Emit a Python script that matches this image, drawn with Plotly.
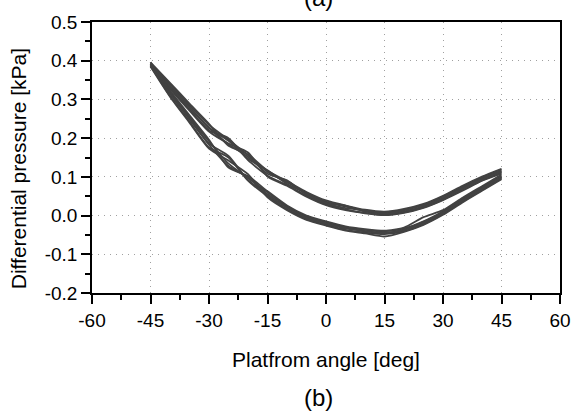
import plotly.graph_objects as go

# Platform angle grid for every half-cycle (deg)
angle_fwd = [-45, -40, -35, -30, -25, -20, -15, -10, -5, 0, 5, 10, 15, 20, 25, 30, 35, 40, 45]

# Upper branch of each cycle (kPa)
upper_c1 = [0.392, 0.340, 0.285, 0.234, 0.196, 0.156, 0.113, 0.086, 0.058, 0.036, 0.023, 0.013, 0.009, 0.015, 0.028, 0.049, 0.074, 0.099, 0.119]
upper_c2 = [0.387, 0.330, 0.274, 0.220, 0.200, 0.143, 0.103, 0.079, 0.051, 0.029, 0.016, 0.007, 0.002, 0.008, 0.021, 0.041, 0.066, 0.091, 0.111]
upper_c3 = [0.396, 0.343, 0.289, 0.237, 0.180, 0.158, 0.116, 0.089, 0.061, 0.039, 0.026, 0.015, 0.010, 0.017, 0.030, 0.051, 0.077, 0.101, 0.121]
upper_c4 = [0.385, 0.327, 0.271, 0.217, 0.186, 0.163, 0.101, 0.077, 0.049, 0.027, 0.014, 0.006, 0.001, 0.007, 0.020, 0.040, 0.064, 0.090, 0.108]
upper_c5 = [0.391, 0.336, 0.280, 0.227, 0.193, 0.147, 0.117, 0.082, 0.057, 0.033, 0.026, 0.010, 0.006, 0.011, 0.024, 0.045, 0.072, 0.096, 0.116]
upper_c6 = [0.389, 0.334, 0.279, 0.226, 0.184, 0.152, 0.108, 0.091, 0.054, 0.032, 0.019, 0.014, 0.004, 0.014, 0.027, 0.044, 0.069, 0.094, 0.114]

# Lower branch of each cycle (kPa)
lower_c1 = [0.392, 0.320, 0.255, 0.192, 0.134, 0.097, 0.060, 0.024, -0.002, -0.017, -0.030, -0.037, -0.041, -0.033, -0.015, 0.011, 0.043, 0.073, 0.103]
lower_c2 = [0.387, 0.309, 0.243, 0.176, 0.150, 0.090, 0.050, 0.016, -0.009, -0.024, -0.037, -0.044, -0.048, -0.040, -0.022, 0.004, 0.036, 0.066, 0.096]
lower_c3 = [0.396, 0.323, 0.259, 0.196, 0.124, 0.102, 0.063, 0.026, 0.000, -0.015, -0.028, -0.035, -0.039, -0.031, -0.004, 0.014, 0.046, 0.076, 0.106]
lower_c4 = [0.385, 0.307, 0.240, 0.173, 0.142, 0.107, 0.047, 0.014, -0.011, -0.026, -0.039, -0.046, -0.054, -0.042, -0.024, 0.002, 0.034, 0.064, 0.094]
lower_c5 = [0.391, 0.316, 0.249, 0.186, 0.154, 0.092, 0.055, 0.021, -0.005, -0.020, -0.031, -0.041, -0.044, -0.036, -0.016, 0.008, 0.040, 0.072, 0.100]
lower_c6 = [0.389, 0.314, 0.251, 0.183, 0.128, 0.099, 0.054, 0.020, -0.006, -0.021, -0.034, -0.040, -0.045, -0.037, -0.019, 0.007, 0.039, 0.069, 0.099]

x_tick_vals = [-60, -45, -30, -15, 0, 15, 30, 45, 60]
x_tick_text = ["-60", "-45", "-30", "-15", "0", "15", "30", "45", "60"]
y_tick_vals = [-0.2, -0.1, 0.0, 0.1, 0.2, 0.3, 0.4, 0.5]
y_tick_text = ["-0.2", "-0.1", "0.0", "0.1", "0.2", "0.3", "0.4", "0.5"]

FONT = "Liberation Sans, Arial, sans-serif"
LINE = "#424242"

fig = go.Figure()
for ys in [upper_c1, upper_c2, upper_c3, upper_c4, upper_c5, upper_c6,
           lower_c1, lower_c2, lower_c3, lower_c4, lower_c5, lower_c6]:
    fig.add_trace(go.Scatter(x=angle_fwd, y=ys, mode="lines",
                             line=dict(color=LINE, width=1.8, shape="spline", smoothing=0.6),
                             showlegend=False, hoverinfo="skip"))

axis_common = dict(
    showline=True, linecolor="black", linewidth=1.5, mirror=True,
    ticks="outside", ticklen=9, tickwidth=1.5, tickcolor="black",
    showgrid=True, gridcolor="#a0a0a0", griddash="1px,5px", gridwidth=1,
    zeroline=False, automargin=False,
    tickfont=dict(family=FONT, size=19, color="black"),
)

fig.update_xaxes(range=[-60, 60], tickvals=x_tick_vals, ticktext=x_tick_text,
                 minor=dict(ticks="outside", ticklen=5, tickwidth=1.5, tickcolor="black",
                            dtick=7.5, tick0=-60, showgrid=False),
                 **axis_common)
fig.update_yaxes(range=[-0.2, 0.5], tickvals=y_tick_vals, ticktext=y_tick_text,
                 minor=dict(ticks="outside", ticklen=5, tickwidth=1.5, tickcolor="black",
                            dtick=0.05, tick0=-0.2, showgrid=False),
                 **axis_common)

# Axis titles and panel labels
fig.add_annotation(text="Platfrom angle [deg]", xref="paper", yref="paper", x=0.5, y=-0.247,
                   xanchor="center", yanchor="middle", showarrow=False,
                   font=dict(family=FONT, size=21, color="black"))
fig.add_annotation(text="Differential pressure [kPa]", xref="paper", yref="paper", x=-0.158, y=0.457,
                   xanchor="center", yanchor="middle", showarrow=False, textangle=-90,
                   font=dict(family=FONT, size=21, color="black"))
fig.add_annotation(text="(a)", xref="paper", yref="paper", x=0.485, y=1.089,
                   xanchor="center", yanchor="middle", showarrow=False,
                   font=dict(family=FONT, size=24, color="black"))
fig.add_annotation(text="(b)", xref="paper", yref="paper", x=0.485, y=-0.384,
                   xanchor="center", yanchor="middle", showarrow=False,
                   font=dict(family=FONT, size=24, color="black"))

fig.update_layout(width=572, height=412, margin=dict(l=92, r=12, t=22, b=119),
                  plot_bgcolor="white", paper_bgcolor="white",
                  font=dict(family=FONT, color="black"))

fig.write_html("out.html", config={"displayModeBar": False},
               post_script="document.body.style.margin='0';document.body.style.overflow='hidden';")
